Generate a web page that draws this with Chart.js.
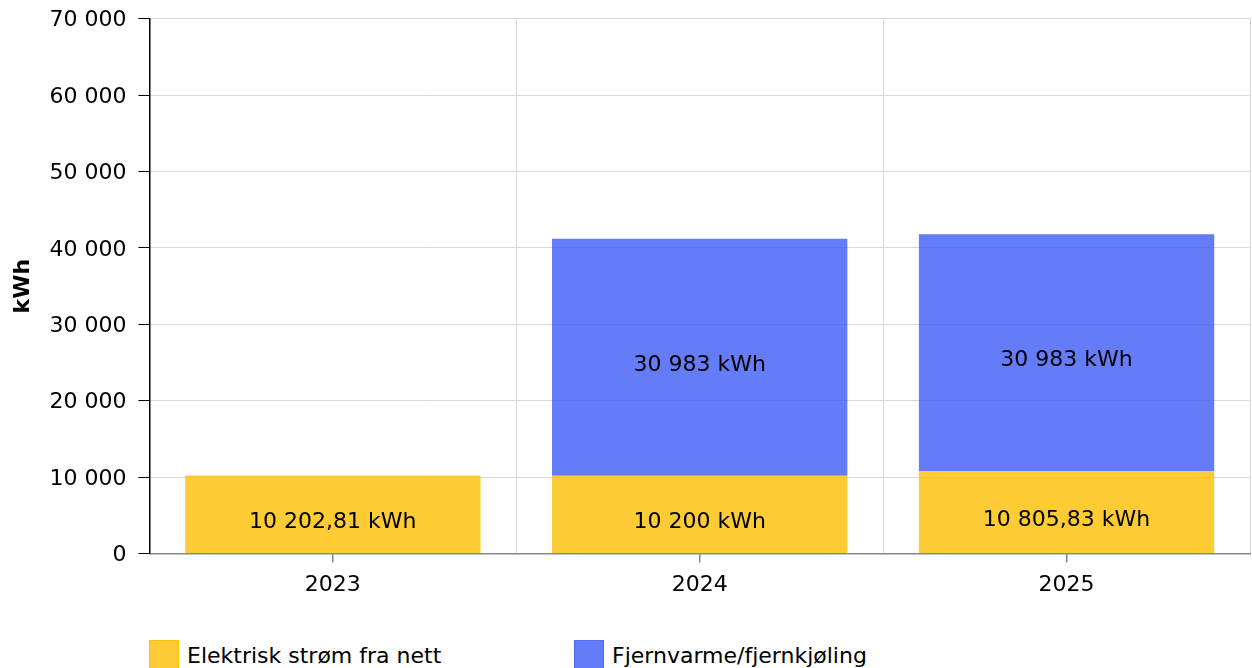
<!DOCTYPE html>
<html>
<head>
<meta charset="utf-8">
<script src="https://cdn.jsdelivr.net/npm/chart.js@4"></script>
<style>
  html, body { margin: 0; padding: 0; background: #fff; overflow: hidden; }
  #wrap { position: relative; width: 1252px; height: 668px; }
  #legend { position: absolute; left: 149px; top: 640px; display: flex; font: 22px "DejaVu Sans", sans-serif; color: #000; }
  .item { width: 425px; display: flex; align-items: center; }
  .box { width: 28px; height: 28px; margin-right: 8px; border: 1px solid; }
</style>
</head>
<body>
<div id="wrap">
  <canvas id="chart" width="1252" height="607"></canvas>
  <div id="legend"></div>
</div>
<script>
const years = ['2023', '2024', '2025'];
const seriesNames = ['Elektrisk strøm fra nett', 'Fjernvarme/fjernkjøling'];
const elektrisk = [10202.81, 10200, 10805.83];
const fjernvarme = [null, 30983, 30983];
const yTicks = [0, 10000, 20000, 30000, 40000, 50000, 60000, 70000];

const fills = ['rgba(252, 190, 0, 0.8)', 'rgba(61, 91, 246, 0.8)'];
const edges = ['#fcc000', '#4f6cf5'];
const font = { family: '"DejaVu Sans", sans-serif', size: 22 };

// norsk tallformat: mellomrom som tusenskille, komma som desimaltegn
function fmt(v) {
    const parts = (Math.round(v * 100) / 100).toString().split('.');
    const whole = parts[0].replace(/\B(?=(\d{3})+(?!\d))/g, ' ');
    return parts[1] ? whole + ',' + (parts[1].length === 1 ? parts[1] + '0' : parts[1]) : whole;
}

const barLabels = {
    id: 'barLabels',
    afterDatasetsDraw(chart) {
        const c = chart.ctx;
        c.save();
        c.font = '22px "DejaVu Sans", sans-serif';
        c.fillStyle = '#000';
        c.textAlign = 'center';
        c.textBaseline = 'middle';
        chart.data.datasets.forEach((ds, i) => {
            chart.getDatasetMeta(i).data.forEach((bar, j) => {
                const v = ds.data[j];
                if (v == null) return;
                c.fillText(fmt(v) + ' kWh', bar.x, (bar.y + bar.base) / 2 + 8);
            });
        });
        c.restore();
    }
};

const chart = new Chart(document.getElementById('chart'), {
    type: 'bar',
    data: {
        labels: years,
        datasets: [
            { label: seriesNames[0], data: elektrisk, backgroundColor: fills[0], borderWidth: 0 },
            { label: seriesNames[1], data: fjernvarme, backgroundColor: fills[1], borderWidth: 0 }
        ]
    },
    options: {
        responsive: false,
        devicePixelRatio: 1,
        animation: false,
        barPercentage: 0.805,
        categoryPercentage: 1,
        layout: { padding: { top: 8, right: 2, left: 5, bottom: 0 } },
        plugins: {
            legend: { display: false },
            tooltip: { enabled: false }
        },
        scales: {
            x: {
                stacked: true,
                offset: true,
                grid: { offset: true, color: '#d8d8d8', drawTicks: false },
                border: { color: '#888888', width: 1.5 },
                ticks: { display: false }
            },
            x2: {
                type: 'category',
                labels: years,
                position: 'bottom',
                offset: true,
                grid: { offset: false, drawOnChartArea: false, tickLength: 9, tickColor: '#888888', lineWidth: 1.5 },
                border: { display: false },
                ticks: { color: '#000', font: font, padding: 9 }
            },
            y: {
                stacked: true,
                min: 0,
                max: 70000,
                afterBuildTicks: axis => { axis.ticks = yTicks.map(v => ({ value: v })); },
                grid: { color: '#d8d8d8', tickColor: '#000', tickLength: 11 },
                border: { color: '#000', width: 1.5 },
                ticks: { color: '#000', font: { family: font.family, size: 22, lineHeight: 0.6 }, padding: 12, labelOffset: 2, callback: v => fmt(v) },
                title: { display: true, text: 'kWh', color: '#000', font: { family: font.family, size: 22, weight: 'bold' }, padding: { top: 5, bottom: 1 } }
            }
        }
    },
    plugins: [barLabels]
});

// legende under diagrammet
const legend = document.getElementById('legend');
seriesNames.forEach((name, i) => {
    const item = document.createElement('div');
    item.className = 'item';
    const box = document.createElement('span');
    box.className = 'box';
    box.style.background = fills[i];
    box.style.borderColor = edges[i];
    const txt = document.createElement('span');
    txt.textContent = name;
    item.appendChild(box);
    item.appendChild(txt);
    legend.appendChild(item);
});
</script>
</body>
</html>
